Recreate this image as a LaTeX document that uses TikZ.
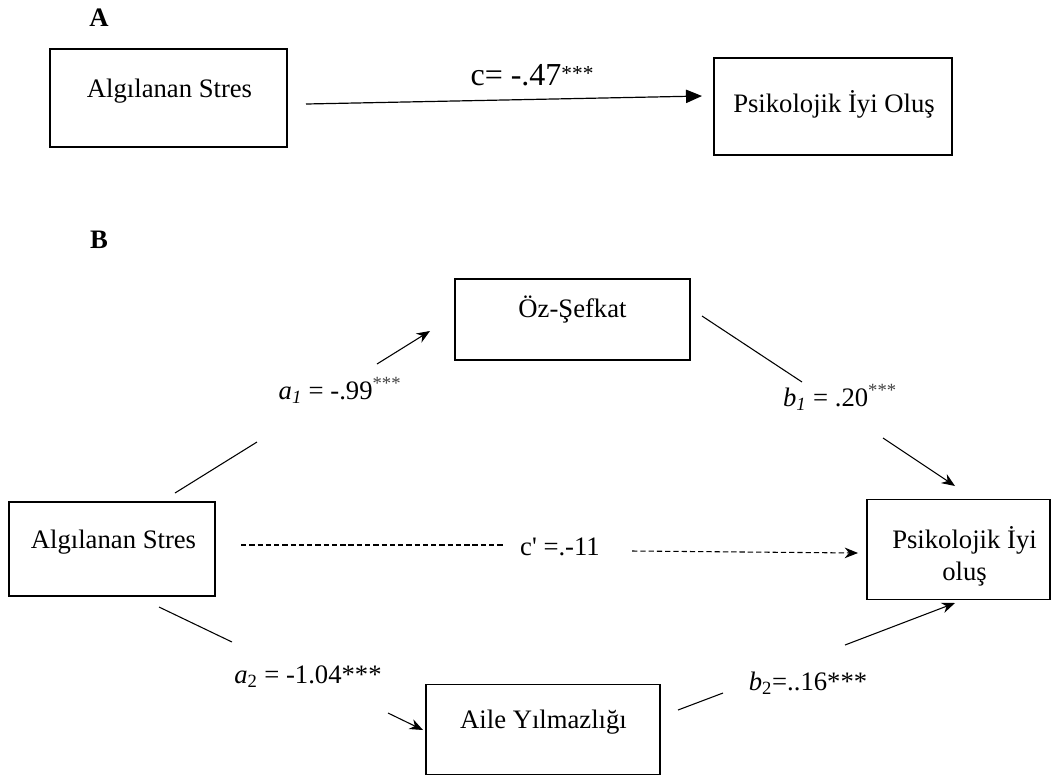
\documentclass[tikz,border=0pt]{standalone}
\usepackage{fontspec}
\setmainfont{Liberation Serif}
\newfontfamily\plainfont{Liberation Serif}[Ligatures=TeXOff]
\usetikzlibrary{arrows.meta}
\begin{document}
\begin{tikzpicture}[x=0.75pt,y=-0.75pt,
  box/.style={draw,line width=0.9pt,inner sep=0pt},
  txt/.style={inner sep=0pt,font=\fontsize{20}{24}\selectfont,align=center,anchor=base},
  lbl/.style={inner sep=0pt,font=\fontsize{20}{24}\selectfont},
  conn/.style={line width=0.8pt},
  arr/.style={line width=0.8pt,-{Stealth[length=10pt,width=8pt]}},
  dsh/.style={line width=0.8pt,dash pattern=on 4pt off 2.2pt}]
\useasboundingbox (0,0) rectangle (1056,776);
% panel labels
\node[inner sep=0pt,font=\fontsize{20}{24}\selectfont\bfseries] (lA) at (99,18) {A};
\node[inner sep=0pt,font=\fontsize{20}{24}\selectfont\bfseries] (lB) at (99,240) {B};
% Panel A
\node[box,minimum width=237*0.75pt,minimum height=98*0.75pt] (A1) at (168.5,98) {};
\node[txt] (A1t) at (169.5,97) {Algılanan Stres};
\node[box,minimum width=238*0.75pt,minimum height=97*0.75pt] (A2) at (833,106.5) {};
\node[txt] (A2t) at (834,112) {Psikolojik İyi Oluş};
\coordinate (cs) at (306,104);
\coordinate (ce) at (702,96);
\draw[line width=0.9pt,-{Triangle[length=12pt,width=10pt]}] (cs) -- (ce);
\node[inner sep=0pt,font=\fontsize{24}{28}\selectfont] (cl) at (532,75) {c= -.47\raisebox{0.35ex}{\fontsize{16}{18}\selectfont ***}};
% Panel B boxes
\node[box,minimum width=235*0.75pt,minimum height=81*0.75pt] (OZ) at (572.5,319.5) {};
\node[txt] (OZt) at (572.5,317) {Öz-Şefkat};
\node[box,minimum width=206*0.75pt,minimum height=94*0.75pt] (AS) at (112,549) {};
\node[txt] (ASt) at (113.5,548) {Algılanan Stres};
\node[box,minimum width=183*0.75pt,minimum height=100*0.75pt] (PI) at (958.5,549.5) {};
\node[txt] (PIt) at (964.5,580) {Psikolojik İyi\\oluş};
\node[box,minimum width=234*0.75pt,minimum height=90*0.75pt] (AY) at (543,729.5) {};
\node[txt] (AYt) at (543.5,728) {Aile Yılmazlığı};
% a1 path
\coordinate (a1s) at (175,493);
\coordinate (a1m) at (257,442);
\coordinate (a1n) at (377,364);
\coordinate (a1e) at (430,331);
\draw[conn] (a1s) -- (a1m);
\draw[arr] (a1n) -- (a1e);
\node[lbl] (a1l) at (340,390) {\textit{a}\textsubscript{\textit{1}} = -.99\textsuperscript{\color{black!75}***}};
% b1 path
\coordinate (b1s) at (702,316);
\coordinate (b1m) at (802,382);
\coordinate (b1n) at (883,438);
\coordinate (b1e) at (955,486);
\draw[conn] (b1s) -- (b1m);
\draw[arr] (b1n) -- (b1e);
\node[lbl] (b1l) at (840,397) {\textit{b}\textsubscript{\textit{1}} = .20\textsuperscript{\color{black!75}***}};
% c' path
\coordinate (cps) at (241,545);
\coordinate (cpm) at (505,545);
\coordinate (cpn) at (632,551);
\coordinate (cpe) at (858,553);
\draw[dsh] (cps) -- (cpm);
\draw[dsh,-{Stealth[length=10pt,width=8pt]}] (cpn) -- (cpe);
\node[lbl] (cpl) at (560,547) {{\plainfont c'} =.-11};
% a2 path
\coordinate (a2s) at (159,607);
\coordinate (a2m) at (232,642);
\coordinate (a2n) at (388,713);
\coordinate (a2e) at (423,730);
\draw[conn] (a2s) -- (a2m);
\draw[arr] (a2n) -- (a2e);
\node[lbl] (a2l) at (308,677) {\textit{a}\textsubscript{2} = -1.04***};
% b2 path
\coordinate (b2s) at (678,710);
\coordinate (b2m) at (723,693);
\coordinate (b2n) at (845,645);
\coordinate (b2e) at (955,603);
\draw[conn] (b2s) -- (b2m);
\draw[arr] (b2n) -- (b2e);
\node[lbl] (b2l) at (808,683) {\textit{b}\textsubscript{2}=..16***};
\end{tikzpicture}
\end{document}
